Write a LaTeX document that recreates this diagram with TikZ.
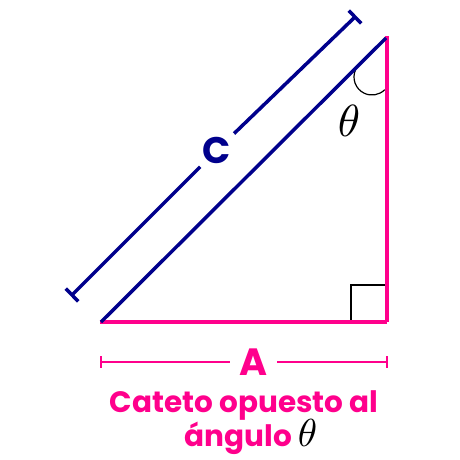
\documentclass[tikz,border=0pt]{standalone}
\usepackage{fontspec}
\usetikzlibrary{calc}
\newfontfamily\pop{Poppins}
\definecolor{pk}{RGB}{255,0,140}
\definecolor{nv}{RGB}{0,0,140}
\begin{document}
\begin{tikzpicture}[x=1pt,y=-1pt,
  pkline/.style={pk,line width=3.5pt},
  nvline/.style={nv,line width=3.5pt},
  dimpk/.style={pk,line width=2.5pt},
  dimnv/.style={nv,line width=3.5pt},
  lbl/.style={font=\pop\bfseries}]
\useasboundingbox (0,0) rectangle (460,460);
% triangle vertices
\coordinate (BL) at (101,322);
\coordinate (BR) at (387,322);
\coordinate (TP) at (387,37);
% right angle box
\draw[black,line width=1.2pt] (351,322) -- (351,285) -- (387,285);
% angle arc
\draw[black,line width=1.2pt] (372,77) ++(205:18) arc[start angle=205,end angle=45,radius=18];
% sides
\draw[pkline] (99.5,322) -- (BR);
\draw[pkline] (BR) -- (387,36);
\draw[nvline] (BL) -- (386,38);
% theta
\node[scale=4.5,inner sep=0pt] (th) at (349,121) {$\theta$};
% C dimension line
\coordinate (c1) at (355,17);
\coordinate (c2) at (72,295);
\node[lbl,circle,minimum size=47pt,inner sep=0pt,nv] (C) at (217,150) {\fontsize{37}{37}\selectfont C};
\draw[dimnv] (c1) -- (C);
\draw[dimnv] (c2) -- (C);
\draw[dimnv] ($(c1)+(-6.3,-6.4)$) -- ($(c1)+(6.3,6.4)$);
\draw[dimnv] ($(c2)+(-6.3,-6.4)$) -- ($(c2)+(6.3,6.4)$);
% A dimension line
\coordinate (a1) at (101,362);
\coordinate (a2) at (387,362);
\node[lbl,pk,minimum width=47pt,minimum height=30pt,inner sep=0pt] (A) at (253.5,362) {\fontsize{38}{38}\selectfont A};
\draw[dimpk] (a1) -- (A);
\draw[dimpk] (a2) -- (A);
\draw[pk,line width=2pt] (101,356) -- (101,368);
\draw[pk,line width=2pt] (387,356) -- (387,368);
% caption
\node[lbl,pk,anchor=base] (t1) at (244,412) {\fontsize{29.5}{29.5}\selectfont Cateto opuesto al};
\node[lbl,pk,anchor=base] (t2) at (251,446) {\fontsize{29.5}{29.5}\selectfont ángulo\hspace{6pt}{\normalsize\scalebox{3.9}{\color{black}$\theta$}}};
\end{tikzpicture}
\end{document}
